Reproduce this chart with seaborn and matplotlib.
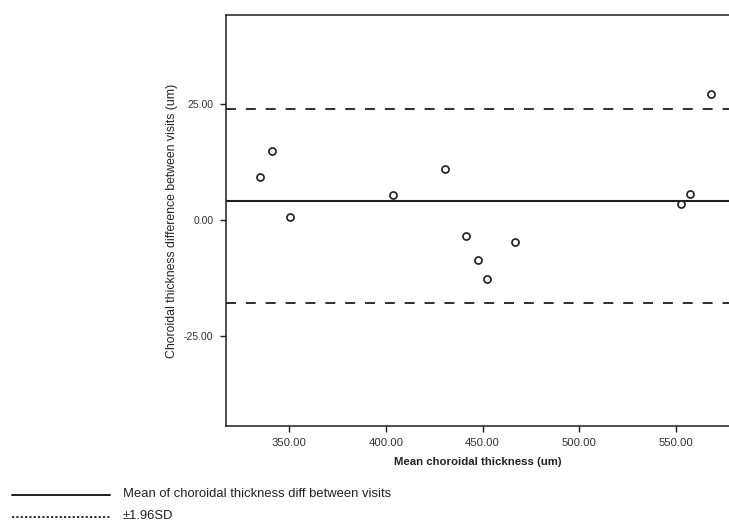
import matplotlib
matplotlib.use("Agg")
import matplotlib.pyplot as plt
from matplotlib.lines import Line2D
import seaborn as sns
import pandas as pd

# Bland-Altman data: mean thickness of two visits vs. difference between visits
mean_thickness = [334.8, 341.2, 350.4, 403.8, 430.6, 441.6, 447.7, 452.3, 467.0, 552.6, 557.6, 568.4]
thickness_diff = [9.3, 14.8, 0.6, 5.5, 11.1, -3.4, -8.7, -12.7, -4.7, 3.5, 5.6, 27.2]
mean_diff = 4.1
upper_limit = 23.9
lower_limit = -17.9

x_ticks = [350, 400, 450, 500, 550]
x_tick_labels = ["350.00", "400.00", "450.00", "500.00", "550.00"]
y_ticks = [-25, 0, 25]
y_tick_labels = ["-25.00", "0.00", "25.00"]

df = pd.DataFrame({"mean": mean_thickness, "diff": thickness_diff})

sns.set_theme(style="ticks")
plt.rcParams["font.family"] = ["Liberation Sans", "DejaVu Sans"]
ink = "#1e1e1e"

fig = plt.figure(figsize=(7.29, 5.23), dpi=100)
ax = fig.add_axes([226 / 729, 1 - 426 / 523, 1 - 226 / 729, (426 - 15) / 523])

sns.scatterplot(data=df, x="mean", y="diff", ax=ax, marker="o", s=26,
                facecolor="white", edgecolor=ink, linewidth=1.2, zorder=3)

ax.axhline(mean_diff, color=ink, lw=1.5, zorder=2)
for lim in (upper_limit, lower_limit):
    ax.axhline(lim, color=ink, lw=1.3, linestyle=(0, (5.5, 5.5)), zorder=2)

ax.set_xlim(317.2, 577.6)
ax.set_ylim(-44.4, 44.2)
ax.set_xticks(x_ticks)
ax.set_xticklabels(x_tick_labels)
ax.set_yticks(y_ticks)
ax.set_yticklabels(y_tick_labels)
ax.tick_params(axis="both", length=4, width=1, color=ink, labelcolor="#333333", pad=5)
ax.tick_params(axis="x", labelsize=8.2)
ax.tick_params(axis="y", labelsize=7.5)

for side in ("left", "top", "bottom"):
    ax.spines[side].set_color(ink)
    ax.spines[side].set_linewidth(1.1)
ax.spines["right"].set_visible(False)

ax.set_xlabel("Mean choroidal thickness (um)", fontsize=8.2, fontweight="bold",
              color="#222222", labelpad=6)
ax.set_ylabel("Choroidal thickness difference between visits (um)", fontsize=8.8,
              color="#222222", labelpad=4)

# Legend drawn beneath the plot in figure coordinates
fig.add_artist(Line2D([12 / 729, 110 / 729], [1 - 495 / 523, 1 - 495 / 523],
                      color=ink, lw=1.4, transform=fig.transFigure))
fig.add_artist(Line2D([12 / 729, 110 / 729], [1 - 517 / 523, 1 - 517 / 523],
                      color=ink, lw=1.3, linestyle=(0, (1.2, 1.2)), transform=fig.transFigure))
fig.text(123 / 729, 1 - 494 / 523, "Mean of choroidal thickness diff between visits",
         fontsize=9.4, color="#222222", va="center", ha="left")
fig.text(123 / 729, 1 - 516 / 523, "\u00b11.96SD",
         fontsize=9.4, color="#222222", va="center", ha="left")

fig.savefig("out.png", dpi=100)
